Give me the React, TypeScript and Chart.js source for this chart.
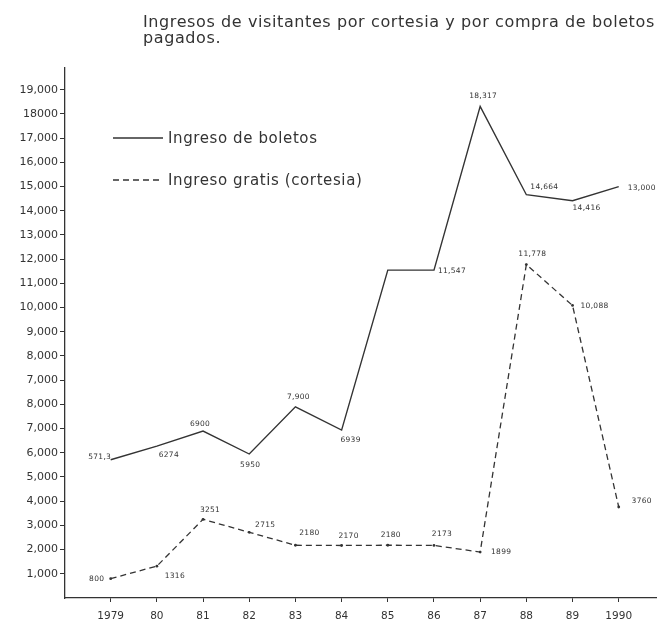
import React, { useEffect, useRef } from "react";
import { Chart, registerables } from "chart.js";

Chart.register(...registerables);

// ---- data ----
const titleLines = [
  "Ingresos de visitantes por cortesia y por compra de boletos",
  "pagados.",
];
const years = ["1979", "80", "81", "82", "83", "84", "85", "86", "87", "88", "89", "1990"];
// tick labels exactly as written on the hand-drawn axis, bottom to top
const yTickLabels = [
  "1,000", "2,000", "3,000", "4,000", "5,000", "6,000", "7,000", "8,000",
  "7,000", "8,000", "9,000", "10,000", "11,000", "12,000", "13,000",
  "14,000", "15,000", "16,000", "17,000", "18000", "19,000",
];
const seriesNames = ["Ingreso de boletos", "Ingreso gratis (cortesia)"];
const boletos = [5713, 6274, 6900, 5950, 7900, 6939, 11547, 11547, 18317, 14664, 14416, 15000];
const boletosLabels = ["571,3", "6274", "6900", "5950", "7,900", "6939", "", "11,547", "18,317", "14,664", "14,416", "13,000"];
const gratis = [800, 1316, 3251, 2715, 2180, 2170, 2180, 2173, 1899, 11778, 10088, 3760];
const gratisLabels = ["800", "1316", "3251", "2715", "2180", "2170", "2180", "2173", "1899", "11,778", "10,088", "3760"];

// ---- presentation ----
const FONT = '"DejaVu Sans", sans-serif';
const INK = "#333333";
// the drawn axis repeats the 7,000 / 8,000 rows: values above 8,000 sit two rows higher
const REPEATED_ROWS = 2;
const axisPos = (v: number) => (v <= 8000 ? v / 1000 : v / 1000 + REPEATED_ROWS);

const boletosOffsets = [[-11, -3], [12, 9], [-3, -7], [1, 11], [3, -10], [9, 10], [0, 0], [18, 1], [3, -10], [18, -8], [14, 7], [23, 1]];
const gratisOffsets = [[-14, 0], [18, 10], [7, -9], [16, -7], [14, -12], [7, -9], [3, -10], [8, -11], [21, 0], [6, -11], [22, 1], [23, -6]];

const overlay = {
  id: "overlay",
  afterDatasetsDraw(chart: any) {
    const ctx = chart.ctx;
    ctx.save();
    ctx.fillStyle = INK;
    // title
    ctx.font = `16px ${FONT}`;
    ctx.letterSpacing = "0.6px";
    ctx.textAlign = "left";
    ctx.textBaseline = "alphabetic";
    titleLines.forEach((t, i) => ctx.fillText(t, 135, 19 + i * 16));
    // legend
    ctx.letterSpacing = "0.6px";
    chart.data.datasets.forEach((ds: any, i: number) => {
      const y = 130 + i * 42;
      ctx.strokeStyle = ds.borderColor;
      ctx.lineWidth = ds.borderWidth;
      ctx.setLineDash(ds.borderDash || []);
      ctx.beginPath();
      ctx.moveTo(105, y);
      ctx.lineTo(155, y);
      ctx.stroke();
      ctx.setLineDash([]);
      ctx.font = `15px ${FONT}`;
      ctx.textBaseline = "middle";
      ctx.fillText(ds.label, 160, y + 1);
    });
    // point labels
    ctx.letterSpacing = "0.3px";
    const labelSets = [boletosLabels, gratisLabels];
    const offsetSets = [boletosOffsets, gratisOffsets];
    ctx.font = `7.5px ${FONT}`;
    ctx.textAlign = "center";
    ctx.textBaseline = "middle";
    labelSets.forEach((labels, di) => {
      const meta = chart.getDatasetMeta(di);
      meta.data.forEach((pt: any, j: number) => {
        const txt = labels[j];
        if (!txt) return;
        const [dx, dy] = offsetSets[di][j];
        ctx.fillText(txt, pt.x + dx, pt.y + dy);
      });
    });
    ctx.restore();
  },
};

export default function App() {
  const canvasRef = useRef<HTMLCanvasElement | null>(null);

  useEffect(() => {
    if (!canvasRef.current) return;
    const chart = new Chart(canvasRef.current, {
      type: "line",
      data: {
        datasets: [
          {
            label: seriesNames[0],
            data: boletos.map((v, i) => ({ x: i, y: axisPos(v) })),
            borderColor: INK,
            borderWidth: 1.4,
            pointRadius: 0,
            tension: 0,
            fill: false,
          },
          {
            label: seriesNames[1],
            data: gratis.map((v, i) => ({ x: i, y: axisPos(v) })),
            borderColor: INK,
            borderWidth: 1.3,
            borderDash: [6, 4],
            pointRadius: 1.4,
            pointBorderWidth: 0,
            pointBackgroundColor: INK,
            tension: 0,
            fill: false,
          },
        ],
      },
      options: {
        animation: false,
        responsive: true,
        maintainAspectRatio: false,
        layout: { padding: { top: 60, left: 0, right: 0, bottom: 0 } },
        plugins: {
          legend: { display: false },
          title: { display: false },
          tooltip: { enabled: false },
        },
        scales: {
          x: {
            type: "linear",
            min: -0.989,
            max: 11.807,
            afterBuildTicks: (s: any) => {
              s.ticks = years.map((_, i) => ({ value: i }));
            },
            afterFit: (s: any) => {
              s.height = 25;
            },
            ticks: {
              autoSkip: false,
              maxRotation: 0,
              padding: 8,
              color: INK,
              font: { family: FONT, size: 10.5 },
              callback: (_v: any, i: number) => years[i],
            },
            grid: { drawOnChartArea: false, drawTicks: true, tickLength: 4, color: INK },
            border: { display: true, color: INK, width: 1.3 },
          },
          y: {
            type: "linear",
            min: 0,
            max: 21.9,
            afterBuildTicks: (s: any) => {
              s.ticks = yTickLabels.map((_, i) => ({ value: i + 1 }));
            },
            afterFit: (s: any) => {
              s.width = 57;
            },
            ticks: {
              autoSkip: false,
              padding: 2,
              color: INK,
              font: { family: FONT, size: 11 },
              callback: (_v: any, i: number) => yTickLabels[i],
            },
            grid: { drawOnChartArea: false, drawTicks: true, tickLength: 5, color: INK },
            border: { display: true, color: INK, width: 1.3 },
          },
        },
      },
      plugins: [overlay],
    } as any);
    return () => chart.destroy();
  }, []);

  return (
    <div style={{ position: "relative", width: 652, height: 615, background: "#fff" }}>
      <canvas ref={canvasRef} style={{ display: "block" }} />
    </div>
  );
}
